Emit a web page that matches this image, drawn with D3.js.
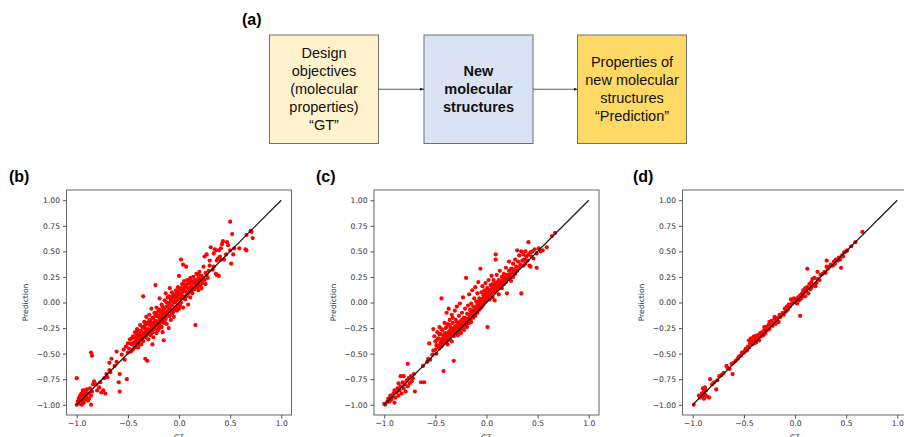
<!DOCTYPE html>
<html>
<head>
<meta charset="utf-8">
<script src="https://cdn.jsdelivr.net/npm/d3@7"></script>
<style>
  body { margin: 0; background: #fff; }
  svg { display: block; }
</style>
</head>
<body>
<div id="container"></div>
<script>
var WIDTH = 904,
    HEIGHT = 437;

// flow diagram boxes (panel a)
var boxTexts = [
  ['Design', 'objectives', '(molecular', 'properties)', '\u201cGT\u201d'],
  ['New', 'molecular', 'structures'],
  ['Properties of', 'new molecular', 'structures', '\u201cPrediction\u201d']
];
var boxColors = ['#fff2cc', '#dae3f3', '#ffd966'];
var boxBold = [false, true, false];

var xTicks = [-1, -0.5, 0, 0.5, 1];
var yTicks = [-1, -0.75, -0.5, -0.25, 0, 0.25, 0.5, 0.75, 1];
var panelLabels = ['(b)', '(c)', '(d)'];

// [GT, Prediction] pairs
var pointsB = [
  [-1.00,-1.00],[-0.99,-0.97],[-0.98,-0.94],[-0.97,-0.99],[-0.96,-0.96],[-0.95,-0.92],[-0.95,-1.00],[-0.94,-0.97],
  [-0.93,-0.90],[-0.92,-0.95],[-0.91,-0.88],[-0.90,-0.93],[-0.90,-0.85],[-0.89,-0.96],[-0.88,-0.89],[-0.87,-0.84],
  [-0.86,-0.91],[-0.86,-1.00],[-0.85,-0.87],[-0.84,-0.80],[-0.92,-0.86],[-0.95,-0.89],[-0.97,-0.92],[-0.98,-0.97],
  [-0.93,-0.98],[-1.00,-0.74],[-0.86,-0.49],[-0.85,-0.52],[-0.94,-0.86],[-0.91,-0.92],[-0.88,-0.94],[-0.96,-0.90],
  [-0.83,-0.77],[-0.81,-0.80],[-0.80,-0.86],[-0.78,-0.83],[-0.77,-0.78],[-0.76,-0.88],[-0.74,-0.86],[-0.73,-0.74],
  [-0.72,-0.89],[-0.71,-0.70],[-0.70,-0.73],[-0.68,-0.66],[-0.68,-0.59],[-0.67,-0.68],[-0.66,-0.55],[-0.63,-0.62],
  [-0.61,-0.58],[-0.61,-0.48],[-0.59,-0.78],[-0.58,-0.70],[-0.58,-0.87],[-0.56,-0.51],[-0.54,-0.46],[-0.53,-0.56],
  [-0.51,-0.75],[-0.52,-0.43],[-0.50,-0.49],[-0.50,-0.40],
  [-0.49,-0.45],[-0.48,-0.36],[-0.47,-0.48],[-0.46,-0.41],[-0.45,-0.33],[-0.45,-0.46],[-0.44,-0.39],[-0.43,-0.29],
  [-0.43,-0.44],[-0.42,-0.35],[-0.41,-0.40],[-0.41,-0.26],[-0.40,-0.31],[-0.40,-0.44],[-0.39,-0.37],[-0.38,-0.22],
  [-0.38,-0.33],[-0.37,-0.41],[-0.37,-0.28],[-0.36,-0.35],[-0.35,0.06],[-0.35,-0.24],[-0.35,-0.38],[-0.34,-0.30],
  [-0.34,-0.19],[-0.33,-0.34],[-0.33,-0.55],[-0.32,-0.26],[-0.32,-0.14],[-0.31,-0.57],[-0.31,-0.31],[-0.30,-0.21],
  [-0.30,-0.36],[-0.29,-0.27],[-0.29,-0.12],[-0.28,-0.32],[-0.28,-0.18],[-0.27,-0.24],[-0.27,-0.06],[-0.26,-0.29],
  [-0.26,-0.15],[-0.26,-0.41],[-0.25,-0.21],[-0.25,-0.34],[-0.24,-0.10],[-0.24,-0.26],[-0.23,0.17],[-0.23,-0.18],
  [-0.22,-0.30],[-0.22,-0.05],[-0.21,-0.22],[-0.21,-0.13],[-0.20,-0.27],[-0.20,-0.08],[-0.19,-0.17],[-0.19,0.04],
  [-0.18,-0.23],[-0.18,-0.11],[-0.17,-0.02],[-0.17,-0.19],[-0.16,-0.14],[-0.16,-0.29],[-0.15,-0.06],[-0.15,-0.20],
  [-0.15,-0.37],[-0.14,0.02],[-0.14,-0.10],[-0.13,-0.16],[-0.13,0.09],[-0.12,-0.04],[-0.12,-0.21],[-0.11,-0.09],
  [-0.11,0.05],[-0.10,-0.13],[-0.10,-0.01],[-0.10,-0.25],[-0.09,0.14],[-0.09,-0.06],[-0.08,-0.17],[-0.08,0.03],
  [-0.07,-0.03],[-0.07,0.10],[-0.06,-0.10],[-0.06,0.06],[-0.05,0.00],[-0.05,-0.14],[-0.04,0.08],[-0.04,-0.05],
  [-0.03,0.12],[-0.03,0.03],[-0.02,-0.08],[-0.02,0.06],[-0.01,0.15],[-0.01,-0.02],[0.00,0.09],[0.00,0.26],
  [0.00,-0.06],[0.01,0.04],[0.01,0.13],[0.02,0.42],[0.02,0.00],[0.03,0.10],[0.03,0.18],[0.04,0.06],
  [0.04,0.37],[0.04,-0.05],[0.05,0.14],[0.05,0.21],[0.06,0.03],[0.06,0.11],[0.07,0.17],[0.07,0.35],
  [0.08,0.08],[0.08,0.22],[0.09,0.14],[0.09,-0.02],[0.10,0.19],[0.10,0.11],[0.11,0.24],[0.11,0.05],
  [0.12,0.16],[0.12,0.21],[0.13,0.09],[0.14,0.19],[0.14,0.25],[0.15,0.13],[0.16,0.22],[0.16,-0.22],
  [0.17,0.16],[0.17,0.28],[0.18,0.20],[0.19,0.12],[0.19,0.24],[0.20,0.17],[0.20,0.30],[0.21,0.22],
  [0.22,0.26],[0.22,0.14],[0.23,0.19],[0.24,0.35],[0.24,0.23],[0.25,0.45],[0.26,0.29],[0.26,0.18],
  [0.27,0.47],[0.28,0.24],
  [-0.47,-0.40],[-0.46,-0.35],[-0.44,-0.42],[-0.43,-0.34],[-0.42,-0.38],[-0.42,-0.30],[-0.41,-0.33],[-0.40,-0.36],
  [-0.39,-0.28],[-0.39,-0.41],[-0.38,-0.30],[-0.37,-0.35],[-0.36,-0.24],[-0.36,-0.30],[-0.35,-0.33],[-0.34,-0.25],
  [-0.33,-0.29],[-0.33,-0.22],[-0.32,-0.32],[-0.31,-0.20],[-0.31,-0.26],[-0.30,-0.29],[-0.29,-0.22],[-0.29,-0.17],
  [-0.28,-0.27],[-0.27,-0.20],[-0.27,-0.30],[-0.26,-0.22],[-0.25,-0.15],[-0.25,-0.26],[-0.24,-0.19],[-0.23,-0.23],
  [-0.23,-0.13],[-0.22,-0.19],[-0.22,-0.10],[-0.21,-0.26],[-0.20,-0.14],[-0.20,-0.21],[-0.19,-0.07],[-0.19,-0.24],
  [-0.18,-0.15],[-0.17,-0.09],[-0.17,-0.24],[-0.16,-0.04],[-0.16,-0.18],[-0.15,-0.12],[-0.14,-0.06],[-0.14,-0.18],
  [-0.13,-0.10],[-0.12,0.00],[-0.12,-0.13],[-0.11,-0.04],[-0.10,-0.08],[-0.10,0.06],[-0.09,-0.13],[-0.09,0.00],
  [-0.08,-0.08],[-0.07,0.06],[-0.07,-0.11],[-0.06,0.01],[-0.05,0.05],[-0.05,-0.08],[-0.04,0.00],[-0.03,-0.05],
  [-0.03,0.08],[-0.02,0.02],[-0.01,0.10],[-0.01,-0.06],[0.00,0.04],[0.01,0.08],[0.01,-0.03],[0.02,0.14],
  [0.03,0.06],[0.04,0.12],[0.05,0.04],[0.05,0.17],[0.06,0.15],[0.07,0.06],[0.08,0.18],[0.09,0.09],
  [0.10,0.22],[0.11,0.14],[0.12,0.11],[0.13,0.20],[0.14,0.14],[0.15,0.21],[0.16,0.18],[0.17,0.21],
  [0.18,0.15],[0.19,0.27],[0.20,0.21],[0.21,0.17],[0.23,0.24],[0.25,0.22],[0.27,0.27],[0.29,0.31],
  [0.30,0.36],[0.30,0.41],[0.31,0.54],[0.33,0.32],[0.34,0.35],[0.34,0.48],[0.35,0.52],[0.36,0.28],
  [0.36,0.51],[0.37,0.41],[0.37,0.27],[0.38,0.43],[0.39,0.26],[0.39,0.51],[0.40,0.45],[0.41,0.53],
  [0.41,0.42],[0.42,0.57],[0.43,0.60],[0.44,0.42],[0.46,0.47],[0.47,0.59],[0.48,0.56],[0.50,0.79],
  [0.50,0.51],[0.51,0.38],[0.52,0.67],[0.53,0.47],[0.54,0.53],[0.59,0.53],[0.65,0.52],[0.66,0.66],
  [0.66,0.51],[0.70,0.70],[0.71,0.69],[0.72,0.63]
];

var pointsC = [
  [-1.00,-0.99],[-0.99,-1.00],[-0.97,-0.97],[-0.96,-0.94],[-0.95,-0.97],[-0.94,-0.91],[-0.93,-0.95],[-0.92,-0.92],
  [-0.91,-0.89],[-0.90,-0.98],[-0.90,-0.86],[-0.89,-0.93],[-0.88,-0.88],[-0.87,-0.84],[-0.86,-0.91],[-0.86,-0.79],
  [-0.85,-0.86],[-0.84,-0.82],[-0.84,-0.72],[-0.83,-0.89],[-0.82,-0.78],[-0.81,-0.84],[-0.81,-0.72],[-0.80,-0.80],
  [-0.79,-0.87],[-0.78,-0.76],[-0.77,-0.60],[-0.77,-0.82],[-0.76,-0.74],[-0.75,-0.79],[-0.74,-0.72],[-0.73,-0.77],
  [-0.72,-0.74],[-0.71,-0.70],[-0.70,-0.87],[-0.64,-0.78],[-0.61,-0.78],[-0.62,-0.62],[-0.58,-0.58],[-0.57,-0.55],
  [-0.56,-0.40],[-0.55,-0.56],[-0.53,-0.51],[-0.52,-0.47],[-0.52,-0.26],[-0.51,-0.33],
  [-0.50,-0.46],[-0.50,-0.38],[-0.49,-0.50],[-0.48,-0.29],[-0.48,-0.42],[-0.47,-0.35],[-0.46,-0.45],[-0.46,-0.24],
  [-0.45,-0.39],[-0.45,-0.31],[-0.44,0.04],[-0.44,-0.43],[-0.43,-0.27],[-0.43,-0.35],[-0.42,-0.67],[-0.42,-0.40],
  [-0.41,-0.20],[-0.41,-0.31],[-0.40,-0.37],[-0.40,-0.25],[-0.39,-0.10],[-0.39,-0.33],[-0.38,-0.41],[-0.38,-0.21],
  [-0.37,-0.29],[-0.37,-0.06],[-0.36,-0.36],[-0.36,-0.17],[-0.35,-0.25],[-0.35,-0.32],[-0.34,-0.12],[-0.34,-0.38],
  [-0.33,-0.28],[-0.33,-0.20],[-0.32,-0.57],[-0.32,-0.33],[-0.31,-0.24],[-0.31,-0.08],[-0.30,-0.30],[-0.30,-0.17],
  [-0.29,-0.26],[-0.29,-0.04],[-0.28,-0.32],[-0.28,-0.21],[-0.27,-0.13],[-0.27,-0.27],[-0.26,-0.24],[-0.26,-0.01],
  [-0.25,-0.30],[-0.25,-0.18],[-0.24,-0.10],[-0.24,-0.25],[-0.23,-0.21],[-0.23,0.05],[-0.22,-0.27],[-0.22,-0.15],
  [-0.21,-0.06],[-0.21,-0.22],[-0.20,0.24],[-0.20,-0.18],[-0.19,-0.11],[-0.19,-0.24],[-0.18,-0.03],[-0.18,-0.16],
  [-0.17,-0.20],[-0.17,0.08],[-0.16,-0.13],[-0.16,-0.07],[-0.15,-0.19],[-0.15,-0.01],[-0.14,-0.10],[-0.14,0.12],
  [-0.13,-0.15],[-0.13,-0.04],[-0.12,-0.09],[-0.12,0.04],[-0.11,-0.13],[-0.11,0.15],[-0.10,-0.06],[-0.10,0.01],
  [-0.09,-0.10],[-0.09,0.09],[-0.08,-0.03],[-0.08,0.20],[-0.07,-0.07],[-0.07,0.04],[-0.06,0.33],[-0.06,-0.01],
  [-0.05,0.10],[-0.05,-0.05],[-0.04,0.02],[-0.04,0.16],[-0.03,-0.02],[-0.03,0.07],[-0.02,0.12],[-0.02,0.00],
  [-0.01,0.05],[-0.01,0.19],[0.00,0.02],[0.00,0.09],[0.01,-0.24],[0.01,0.14],[0.02,0.06],[0.02,0.22],
  [0.03,0.03],[0.03,0.11],[0.04,0.17],[0.04,0.08],[0.05,0.13],[0.05,0.26],[0.06,0.05],[0.06,0.18],
  [0.07,0.10],[0.07,0.22],[0.08,0.15],[0.08,0.02],[0.09,0.47],[0.09,0.42],[0.09,0.19],[0.10,0.12],
  [0.10,0.27],[0.11,0.16],[0.12,0.22],[0.12,0.08],[0.13,0.17],[0.13,0.31],[0.14,0.20],[0.15,0.25],
  [0.15,0.14],[0.16,0.22],[0.17,0.28],[0.17,0.18],[0.18,0.24],[0.19,0.34],[0.19,0.20],[0.20,0.09],
  [0.20,0.27],[0.21,0.23],[0.22,0.31],[0.22,0.40],[0.23,0.27],[0.24,0.21],[0.24,0.33],[0.25,0.29],
  [0.26,0.38],[0.26,0.25],[0.27,0.32],[0.28,0.42],[0.28,0.28],[0.29,0.35],
  [-0.49,-0.42],[-0.48,-0.36],[-0.47,-0.44],[-0.46,-0.31],[-0.45,-0.42],[-0.44,-0.36],[-0.44,-0.26],[-0.43,-0.39],
  [-0.42,-0.32],[-0.41,-0.36],[-0.40,-0.30],[-0.39,-0.38],[-0.39,-0.24],[-0.38,-0.31],[-0.37,-0.35],[-0.36,-0.28],
  [-0.36,-0.22],[-0.35,-0.30],[-0.34,-0.26],[-0.33,-0.32],[-0.33,-0.15],[-0.32,-0.25],[-0.31,-0.29],[-0.30,-0.23],
  [-0.29,-0.30],[-0.29,-0.19],[-0.28,-0.25],[-0.27,-0.20],[-0.26,-0.28],[-0.25,-0.22],[-0.24,-0.17],[-0.23,-0.25],
  [-0.22,-0.20],[-0.21,-0.15],[-0.20,-0.22],[-0.19,-0.16],[-0.18,-0.20],[-0.17,-0.12],[-0.16,-0.17],[-0.15,-0.09],
  [-0.14,-0.14],[-0.13,-0.08],[-0.12,-0.12],[-0.11,-0.05],[-0.10,-0.10],[-0.09,-0.02],[-0.08,-0.07],[-0.07,0.01],
  [-0.06,-0.05],[-0.05,0.03],[-0.04,-0.03],[-0.03,0.04],[-0.02,0.08],[-0.01,0.01],[0.00,0.05],[0.01,0.10],
  [0.02,0.03],[0.03,0.07],[0.04,0.12],[0.05,0.09],[0.06,0.13],[0.07,0.16],[0.08,0.10],[0.09,0.14],
  [0.10,0.17],[0.11,0.20],[0.12,0.15],[0.14,0.16],[0.15,0.19],[0.16,0.25],[0.18,0.20],[0.20,0.23],
  [0.21,0.27],[0.23,0.24],[0.25,0.33],[0.27,0.29],[0.29,0.31],
  [0.30,0.51],[0.30,0.31],[0.31,0.40],[0.32,0.34],[0.32,0.46],[0.33,0.37],[0.34,0.09],[0.34,0.50],
  [0.35,0.41],[0.36,0.36],[0.36,0.47],[0.37,0.42],[0.38,0.50],[0.38,0.38],[0.39,0.45],[0.40,0.41],
  [0.41,0.59],[0.41,0.47],[0.42,0.36],[0.43,0.49],[0.43,0.35],[0.44,0.45],[0.45,0.50],[0.46,0.43],
  [0.47,0.52],[0.49,0.34],[0.49,0.48],[0.51,0.53],[0.53,0.50],[0.55,0.51],[0.59,0.54],[0.64,0.65],
  [0.67,0.68]
];

var pointsD = [
  [-0.99,-1.00],[-0.94,-0.91],[-0.93,-0.93],[-0.91,-0.89],[-0.90,-0.84],[-0.90,-0.92],[-0.89,-0.87],[-0.89,-0.94],
  [-0.88,-0.83],[-0.88,-0.90],[-0.87,-0.86],[-0.86,-0.92],[-0.84,-0.93],[-0.83,-0.75],[-0.81,-0.80],[-0.79,-0.78],
  [-0.77,-0.85],[-0.76,-0.76],[-0.74,-0.72],[-0.72,-0.71],[-0.70,-0.69],[-0.67,-0.62],[-0.66,-0.64],[-0.64,-0.65],
  [-0.62,-0.60],[-0.61,-0.70],[-0.60,-0.59],[-0.58,-0.57],[-0.56,-0.55],[-0.55,-0.53],[-0.53,-0.52],[-0.52,-0.49],
  [-0.50,-0.49],[-0.49,-0.47],[-0.48,-0.45],[-0.47,-0.47],[-0.46,-0.43],[-0.45,-0.37],[-0.45,-0.44],[-0.44,-0.40],
  [-0.43,-0.36],[-0.43,-0.35],[-0.42,-0.41],[-0.41,-0.38],[-0.40,-0.33],[-0.40,-0.40],[-0.39,-0.36],[-0.38,-0.39],
  [-0.38,-0.33],[-0.37,-0.32],[-0.36,-0.35],[-0.35,-0.37],[-0.34,-0.30],[-0.33,-0.33],[-0.32,-0.29],[-0.31,-0.32],
  [-0.30,-0.27],[-0.30,-0.24],[-0.29,-0.30],[-0.28,-0.24],[-0.27,-0.27],[-0.26,-0.22],[-0.25,-0.26],[-0.25,-0.19],
  [-0.24,-0.22],[-0.23,-0.18],[-0.22,-0.23],[-0.21,-0.20],[-0.20,-0.16],[-0.20,-0.14],[-0.19,-0.21],[-0.18,-0.17],
  [-0.17,-0.15],[-0.17,-0.19],[-0.16,-0.19],[-0.15,-0.12],[-0.14,-0.14],[-0.12,-0.10],[-0.11,-0.12],[-0.10,-0.06],
  [-0.09,-0.09],[-0.08,-0.04],[-0.07,-0.07],[-0.06,-0.02],[-0.05,-0.04],[-0.04,0.03],[-0.03,-0.01],[-0.02,0.00],
  [-0.01,0.04],[0.00,0.01],[0.01,0.03],[0.02,-0.01],[0.03,0.05],[0.04,0.02],[0.05,-0.13],[0.05,0.07],
  [0.06,0.04],[0.07,0.09],[0.08,0.12],[0.08,0.06],[0.09,0.10],[0.10,0.14],[0.10,0.06],[0.11,0.11],
  [0.12,0.33],[0.12,0.15],[0.13,0.09],[0.14,0.18],[0.15,0.13],[0.16,0.20],[0.16,0.15],[0.17,0.23],
  [0.18,0.17],[0.19,0.24],[0.20,0.16],[0.21,0.19],[0.22,0.30],[0.22,0.23],[0.24,0.22],[0.25,0.27],
  [0.27,0.28],[0.29,0.30],[0.30,0.29],[0.31,0.41],[0.31,0.35],[0.32,0.33],[0.34,0.35],[0.35,0.37],
  [0.37,0.36],[0.38,0.40],[0.39,0.38],[0.40,0.42],[0.42,0.41],[0.43,0.44],[0.44,0.42],[0.45,0.34],
  [0.46,0.46],[0.47,0.45],[0.48,0.49],[0.50,0.50],[0.51,0.51],[0.55,0.55],[0.59,0.59],[0.66,0.69]
];

var svg = d3.select('#container').append('svg')
    .attr('width', WIDTH)
    .attr('height', HEIGHT);

svg.append('defs').append('marker')
    .attr('id', 'arrow')
    .attr('viewBox', '0 0 10 10')
    .attr('refX', 10)
    .attr('refY', 5)
    .attr('markerWidth', 5)
    .attr('markerHeight', 5)
    .attr('orient', 'auto')
  .append('path')
    .attr('d', 'M0,1 L10,5 L0,9 Z')
    .attr('fill', '#222');

// ---- panel (a): flow diagram ----
var BOX_W = 109, BOX_H = 108.5, BOX_TOP = 35;
var boxLeft = d3.scaleOrdinal().domain([0, 1, 2]).range([269.5, 424, 577.5]);

svg.append('text')
    .attr('x', 242)
    .attr('y', 25)
    .attr('font-family', 'Liberation Sans, Arial, sans-serif')
    .attr('font-weight', 'bold')
    .attr('font-size', 16)
    .text('(a)');

var boxes = svg.selectAll('g.box')
    .data(boxTexts)
    .enter()
    .append('g')
      .attr('class', 'box')
      .attr('transform', function(d, i) { return 'translate(' + boxLeft(i) + ',' + BOX_TOP + ')'; });

boxes.append('rect')
    .attr('width', BOX_W)
    .attr('height', BOX_H)
    .attr('fill', function(d, i) { return boxColors[i]; })
    .attr('stroke', '#6f6f6f')
    .attr('stroke-width', 1);

boxes.each(function(lines, i) {
  var lineH = 18,
      y0 = BOX_H / 2 - (lines.length - 1) * lineH / 2;
  d3.select(this).selectAll('text')
    .data(lines)
    .enter()
    .append('text')
      .attr('x', BOX_W / 2)
      .attr('y', function(d, j) { return y0 + j * lineH; })
      .attr('dy', '0.35em')
      .attr('text-anchor', 'middle')
      .attr('font-family', 'Liberation Sans, Arial, sans-serif')
      .attr('font-size', 14.5)
      .attr('font-weight', boxBold[i] ? 'bold' : 'normal')
      .attr('fill', '#111')
      .text(function(d) { return d; });
});

[0, 1].forEach(function(i) {
  svg.append('line')
      .attr('x1', boxLeft(i) + BOX_W)
      .attr('x2', boxLeft(i + 1))
      .attr('y1', BOX_TOP + BOX_H / 2)
      .attr('y2', BOX_TOP + BOX_H / 2)
      .attr('stroke', '#333')
      .attr('stroke-width', 0.8)
      .attr('marker-end', 'url(#arrow)');
});

// ---- panels (b), (c), (d): scatter plots ----
var PLOT_SIZE = 225, PLOT_TOP = 190;
var panels = [
  {left: 66.5, label: panelLabels[0], labelX: 9, data: pointsB},
  {left: 374,  label: panelLabels[1], labelX: 316, data: pointsC},
  {left: 682.5, label: panelLabels[2], labelX: 633, data: pointsD}
];

panels.forEach(function(p) {
  var x = d3.scaleLinear().domain([-1.1, 1.1]).range([p.left, p.left + PLOT_SIZE]),
      y = d3.scaleLinear().domain([-1.1, 1.1]).range([PLOT_TOP + PLOT_SIZE, PLOT_TOP]);

  var g = svg.append('g');

  g.append('text')
      .attr('x', p.labelX)
      .attr('y', 182)
      .attr('font-family', 'Liberation Sans, Arial, sans-serif')
      .attr('font-weight', 'bold')
      .attr('font-size', 16)
      .text(p.label);

  g.append('rect')
      .attr('x', p.left)
      .attr('y', PLOT_TOP)
      .attr('width', PLOT_SIZE)
      .attr('height', PLOT_SIZE)
      .attr('fill', 'none')
      .attr('stroke', '#666')
      .attr('stroke-width', 1);

  var xAxis = g.append('g')
      .attr('transform', 'translate(0,' + (PLOT_TOP + PLOT_SIZE) + ')')
      .call(d3.axisBottom(x).tickValues(xTicks).tickFormat(d3.format('.1f')).tickSize(3.5).tickPadding(2.5));
  var yAxis = g.append('g')
      .attr('transform', 'translate(' + p.left + ',0)')
      .call(d3.axisLeft(y).tickValues(yTicks).tickFormat(d3.format('.2f')).tickSize(3.5).tickPadding(3));

  [xAxis, yAxis].forEach(function(ax) {
    ax.select('.domain').remove();
    ax.selectAll('line').attr('stroke', '#555');
    ax.selectAll('text')
        .attr('font-family', 'DejaVu Sans, sans-serif')
        .attr('font-size', 7.6)
        .attr('fill', '#333');
  });

  g.append('text')
      .attr('transform', 'translate(' + (p.left - 41) + ',' + (PLOT_TOP + PLOT_SIZE / 2) + ') rotate(-90)')
      .attr('text-anchor', 'middle')
      .attr('dy', '0.35em')
      .attr('font-family', 'DejaVu Sans, sans-serif')
      .attr('font-size', 7.6)
      .attr('fill', '#333')
      .text('Prediction');

  // x label sits at the bottom edge, only partly visible as in the source figure
  g.append('text')
      .attr('x', p.left + PLOT_SIZE / 2)
      .attr('y', 440)
      .attr('text-anchor', 'middle')
      .attr('font-family', 'DejaVu Sans, sans-serif')
      .attr('font-size', 7.6)
      .attr('fill', '#333')
      .text('GT');

  g.append('g').selectAll('circle')
    .data(p.data)
    .enter()
    .append('circle')
      .attr('cx', function(d) { return x(d[0]); })
      .attr('cy', function(d) { return y(d[1]); })
      .attr('r', 2.1)
      .attr('fill', '#ff0000');

  g.append('line')
      .attr('x1', x(-1))
      .attr('y1', y(-1))
      .attr('x2', x(1))
      .attr('y2', y(1))
      .attr('stroke', '#111')
      .attr('stroke-width', 1.2);
});
</script>
</body>
</html>
